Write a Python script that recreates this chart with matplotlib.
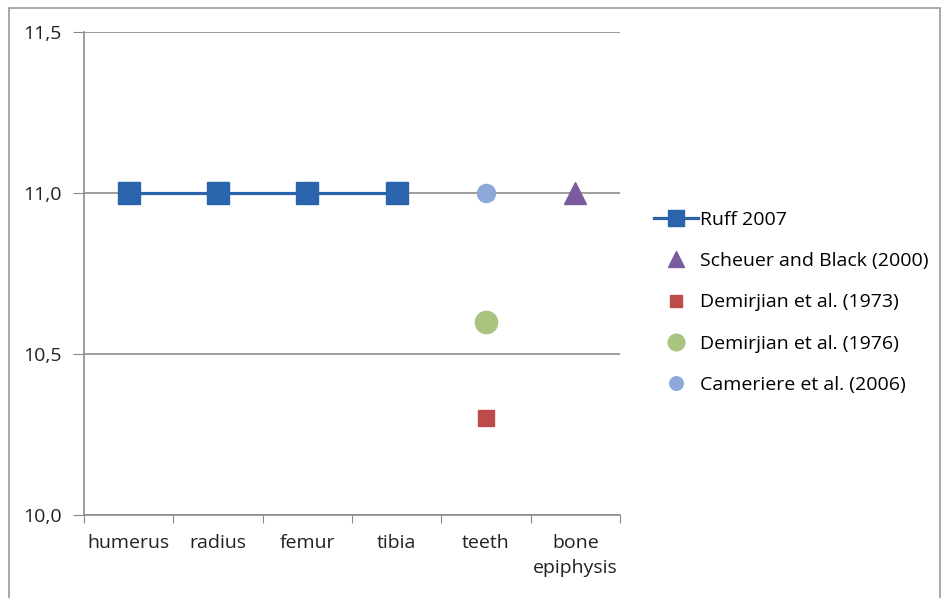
import matplotlib.pyplot as plt
from matplotlib.patches import Rectangle

plt.rcParams['font.family'] = ['Open Sans', 'DejaVu Sans']

# Bone / method categories along the x axis
categories = ['humerus', 'radius', 'femur', 'tibia', 'teeth', 'bone\nepiphysis']

# Ruff 2007 covers the four long bones
ruff_x = ['humerus', 'radius', 'femur', 'tibia']
ruff_y = [11.0, 11.0, 11.0, 11.0]

# Single-point studies
scheuer_x, scheuer_y = ['bone\nepiphysis'], [11.0]
dem1973_x, dem1973_y = ['teeth'], [10.3]
dem1976_x, dem1976_y = ['teeth'], [10.6]
cameriere_x, cameriere_y = ['teeth'], [11.0]

y_ticks = [10.0, 10.5, 11.0, 11.5]
y_tick_labels = ['10,0', '10,5', '11,0', '11,5']

fig = plt.figure(figsize=(9.42, 5.98), dpi=100)
ax = fig.add_axes([84 / 942, 1 - 515 / 598, 536 / 942, 483 / 598])

pos = {c: i for i, c in enumerate(categories)}

ax.plot([pos[c] for c in ruff_x], ruff_y, color='#2A64AC', lw=2.3,
        marker='s', markersize=16, label='Ruff 2007', zorder=5)
ax.plot([pos[c] for c in scheuer_x], scheuer_y, ls='none', marker='^',
        color='#7A5C9E', markersize=16, label='Scheuer and Black (2000)', zorder=5)
ax.plot([pos[c] for c in dem1973_x], dem1973_y, ls='none', marker='s',
        color='#BE4B48', markersize=11, label='Demirjian et al. (1973)', zorder=5)
ax.plot([pos[c] for c in dem1976_x], dem1976_y, ls='none', marker='o',
        color='#A9C47F', markersize=16, label='Demirjian et al. (1976)', zorder=5)
ax.plot([pos[c] for c in cameriere_x], cameriere_y, ls='none', marker='o',
        color='#8EA8D9', markersize=13, label='Cameriere et al. (2006)', zorder=5)

ax.set_xlim(-0.5, len(categories) - 0.5)
ax.set_ylim(10.0, 11.5)

# category ticks sit between groups, labels centred under each group
ax.set_xticks([i - 0.5 for i in range(len(categories) + 1)])
ax.set_xticklabels([])
ax.set_xticks(range(len(categories)), minor=True)
ax.set_xticklabels(categories, minor=True, fontsize=14, color='#222222',
                   linespacing=1.45)
ax.tick_params(axis='x', which='minor', length=0, pad=14)
ax.tick_params(axis='x', which='major', length=6, color='#888888', direction='out')

ax.set_yticks(y_ticks)
ax.set_yticklabels(y_tick_labels, fontsize=14, color='#222222')
ax.tick_params(axis='y', length=8, color='#888888', direction='out', pad=8)

ax.grid(axis='y', color='#8C8C8C', lw=1.2)
ax.set_axisbelow(True)
for side in ['top', 'right']:
    ax.spines[side].set_visible(False)
for side in ['left', 'bottom']:
    ax.spines[side].set_color('#8C8C8C')
    ax.spines[side].set_linewidth(1.2)

leg = ax.legend(loc='center left', bbox_to_anchor=(1.03, 0.44), frameon=False,
                fontsize=14, handlelength=2.3, handletextpad=0.1,
                labelspacing=1.2, markerscale=0.75)

# outer chart frame
fig.patches.append(Rectangle((9 / 942, -0.01), 931 / 942, 1 - 8 / 598 + 0.01,
                             transform=fig.transFigure, fill=False,
                             edgecolor='#9A9A9A', lw=1.2))

fig.savefig('out.png', dpi=100)
